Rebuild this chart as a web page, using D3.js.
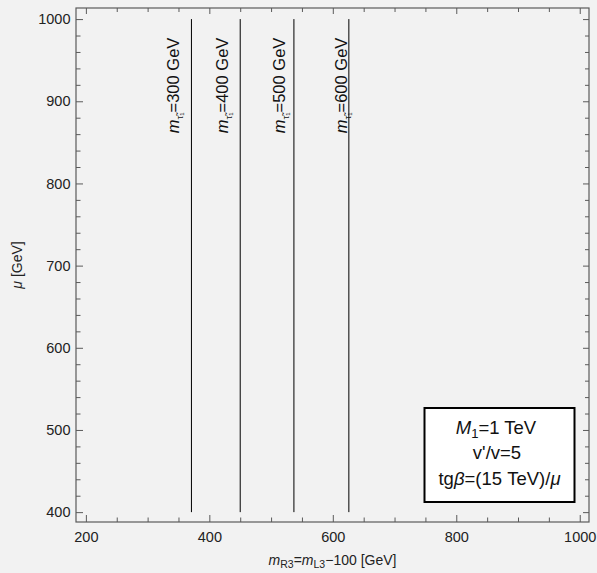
<!DOCTYPE html>
<html>
<head>
<meta charset="utf-8">
<script src="https://cdn.jsdelivr.net/npm/d3@7"></script>
<style>
  html, body { margin: 0; padding: 0; background: #f2f2f2; }
  svg { display: block; }
  svg text { font-family: "Liberation Sans", Arial, sans-serif; }
</style>
</head>
<body>
<svg id="chart" width="597" height="573"></svg>
<script>
// ---- data ----
const stauMasses = [300, 400, 500, 600];          // GeV, contour label values
const contourX = [371, 450, 537, 626];            // m_R3 position of each contour (GeV)
const contourMuRange = [400, 1000];               // mu extent of each contour
const labelAt = [351, 431, 522, 623];             // m_R3 position of each label baseline
const labelMu = 861;                              // mu where label starts
const xMajorTicks = [200, 400, 600, 800, 1000];
const yMajorTicks = [400, 500, 600, 700, 800, 900, 1000];
const legendLines = ["M1=1 TeV", "v'/v=5", "tgβ=(15 TeV)/μ"];

// ---- layout ----
const FONT = "'Liberation Sans', Arial, sans-serif";
const svg = d3.select("#chart").attr("font-family", FONT);
const L = 76, R = 589, T = 8, B = 522;
const x = d3.scaleLinear().domain([184, 1015]).range([L, R]);
const y = d3.scaleLinear().domain([388, 1013.5]).range([B, T]);

svg.append("rect").attr("width", 597).attr("height", 573).attr("fill", "#f2f2f2");

const xMinor = d3.range(200, 1001, 50).filter(v => !xMajorTicks.includes(v));
const yMinor = d3.range(400, 1001, 20).filter(v => !yMajorTicks.includes(v));
const axisColor = "#5a5a5a";

function styleAxis(g) {
  g.attr("font-family", FONT);
  g.select(".domain").remove();
  g.selectAll(".tick line").attr("stroke", axisColor).attr("stroke-width", 1);
  g.selectAll(".tick text").attr("fill", "#222").attr("font-family", FONT).style("font-size", "14.5px");
}

// bottom major
svg.append("g").attr("transform", `translate(0,${B})`)
  .call(d3.axisBottom(x).tickValues(xMajorTicks).tickSize(-7).tickPadding(9.5).tickFormat(d3.format("d")))
  .call(styleAxis);
svg.append("g").attr("transform", `translate(0,${B})`)
  .call(d3.axisBottom(x).tickValues(xMinor).tickSize(-4.5).tickFormat(""))
  .call(styleAxis);
// top (mirror)
svg.append("g").attr("transform", `translate(0,${T})`)
  .call(d3.axisTop(x).tickValues(xMajorTicks).tickSize(-6).tickFormat(""))
  .call(styleAxis);
svg.append("g").attr("transform", `translate(0,${T})`)
  .call(d3.axisTop(x).tickValues(xMinor).tickSize(-4).tickFormat(""))
  .call(styleAxis);
// left major
svg.append("g").attr("transform", `translate(${L},0)`)
  .call(d3.axisLeft(y).tickValues(yMajorTicks).tickSize(-7).tickPadding(5.5).tickFormat(d3.format("d")))
  .call(styleAxis);
svg.append("g").attr("transform", `translate(${L},0)`)
  .call(d3.axisLeft(y).tickValues(yMinor).tickSize(-4.5).tickFormat(""))
  .call(styleAxis);
// right (mirror)
svg.append("g").attr("transform", `translate(${R},0)`)
  .call(d3.axisRight(y).tickValues(yMajorTicks).tickSize(-6).tickFormat(""))
  .call(styleAxis);
svg.append("g").attr("transform", `translate(${R},0)`)
  .call(d3.axisRight(y).tickValues(yMinor).tickSize(-4).tickFormat(""))
  .call(styleAxis);

// frame
svg.append("rect").attr("x", L).attr("y", T).attr("width", R - L).attr("height", B - T)
  .attr("fill", "none").attr("stroke", axisColor).attr("stroke-width", 1.2);

// contour lines
svg.append("g").selectAll("line").data(contourX).join("line")
  .attr("x1", d => x(d)).attr("x2", d => x(d))
  .attr("y1", y(contourMuRange[0])).attr("y2", y(contourMuRange[1]))
  .attr("stroke", "#000").attr("stroke-width", 1);

// contour labels
const lbl = svg.append("g").selectAll("text").data(stauMasses).join("text")
  .attr("transform", (d, i) => `translate(${x(labelAt[i])},${y(labelMu)}) rotate(-90)`)
  .attr("fill", "#111").style("font-size", "16.5px");
lbl.append("tspan").attr("font-style", "italic").text("m");
lbl.append("tspan").attr("dy", 4).style("font-size", "9.5px").text("τ̃");
lbl.append("tspan").attr("dy", 1).style("font-size", "6px").text("1");
lbl.append("tspan").attr("dy", -5).text(d => `=${d} GeV`);

// axis titles
const xt = svg.append("text").attr("x", (L + R) / 2).attr("y", 565)
  .attr("text-anchor", "middle").attr("fill", "#222").style("font-size", "14px");
xt.append("tspan").attr("font-style", "italic").text("m");
xt.append("tspan").attr("dy", 3).style("font-size", "10.5px").text("R3");
xt.append("tspan").attr("dy", -3).text("=");
xt.append("tspan").attr("font-style", "italic").text("m");
xt.append("tspan").attr("dy", 3).style("font-size", "10.5px").text("L3");
xt.append("tspan").attr("dy", -3).text("\u2212100 [GeV]");

const yt = svg.append("text").attr("transform", `translate(22,${(T + B) / 2}) rotate(-90)`)
  .attr("text-anchor", "middle").attr("fill", "#222").style("font-size", "14px");
yt.append("tspan").attr("font-style", "italic").text("μ");
yt.append("tspan").text(" [GeV]");

// legend box
const lg = svg.append("g");
lg.append("rect").attr("x", 424.5).attr("y", 408).attr("width", 150).attr("height", 94)
  .attr("fill", "#fff").attr("stroke", "#000").attr("stroke-width", 2);
const cx = 499.5;
const FS = "18.5px";
const t1 = lg.append("text").attr("x", 496).attr("y", 433.5).attr("text-anchor", "middle")
  .attr("fill", "#111").style("font-size", FS);
t1.append("tspan").attr("font-style", "italic").text(legendLines[0][0]);
t1.append("tspan").attr("dy", 4).style("font-size", "13px").text(legendLines[0][1]);
t1.append("tspan").attr("dy", -4).text(legendLines[0].slice(2));
lg.append("text").attr("x", 497).attr("y", 459).attr("text-anchor", "middle")
  .attr("fill", "#111").style("font-size", FS).text(legendLines[1]);
const t3 = lg.append("text").attr("x", cx).attr("y", 484.5).attr("text-anchor", "middle")
  .attr("fill", "#111").style("font-size", FS);
const s3 = legendLines[2];
t3.append("tspan").text(s3.slice(0, 2));
t3.append("tspan").attr("font-style", "italic").text(s3[2]);
t3.append("tspan").text(s3.slice(3, s3.length - 1));
t3.append("tspan").attr("font-style", "italic").text(s3[s3.length - 1]);
</script>
</body>
</html>
